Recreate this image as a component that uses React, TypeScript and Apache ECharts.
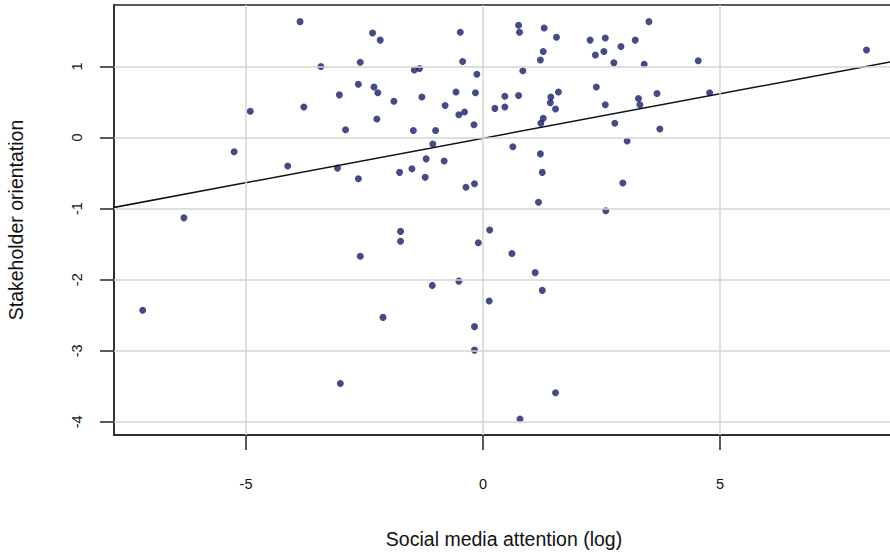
import React, { useEffect, useRef } from "react";
import * as echarts from "echarts";

const xValues: number[] = [
  -3.86, -2.33, -2.17, -0.48, -3.42, -2.59, -0.43, -1.45, -1.34, -0.13,
  -2.63, -2.30, -2.22, -3.03, -3.78, -4.91, -1.29, -0.57, -0.16, -1.88,
  -0.80, -0.51, -0.39, 0.25, -2.24, -0.19, -2.90, -1.47, -1.00, -1.06,
  -5.25, -1.20, -0.82, -4.12, -3.07, -1.76, -1.50, -2.63, -1.22, -0.36,
  -0.18, -6.31, -1.74, -1.74, 0.14, -0.10, -2.59, -1.07, -0.51, -7.18,
  -2.11, 0.13, -0.18, -0.18, -3.01, 0.75, 0.77, 1.29, 3.50, 1.55,
  2.26, 2.58, 3.21, 2.91, 1.27, 2.37, 2.55, 1.21, 2.76, 3.40,
  4.54, 8.09, 0.84, 2.39, 1.59, 1.43, 0.46, 0.75, 3.28, 3.67,
  4.78, 0.46, 1.42, 1.53, 2.58, 3.31, 1.27, 1.22, 2.78, 3.73,
  0.63, 3.04, 1.21, 1.25, 2.95, 1.17, 2.59, 0.61, 1.10, 1.25,
  1.53, 0.78,
];

const yValues: number[] = [
  1.63, 1.47, 1.37, 1.48, 1.00, 1.06, 1.07, 0.95, 0.97, 0.89,
  0.75, 0.71, 0.63, 0.60, 0.43, 0.37, 0.57, 0.64, 0.63, 0.51,
  0.45, 0.32, 0.36, 0.41, 0.26, 0.18, 0.11, 0.10, 0.10, -0.09,
  -0.20, -0.30, -0.33, -0.40, -0.43, -0.49, -0.44, -0.58, -0.56, -0.70,
  -0.65, -1.13, -1.32, -1.46, -1.30, -1.48, -1.67, -2.08, -2.02, -2.43,
  -2.53, -2.30, -2.66, -2.99, -3.46, 1.58, 1.48, 1.54, 1.63, 1.41,
  1.37, 1.40, 1.37, 1.28, 1.21, 1.16, 1.21, 1.09, 1.05, 1.03,
  1.08, 1.23, 0.94, 0.71, 0.64, 0.57, 0.58, 0.59, 0.55, 0.62,
  0.63, 0.43, 0.49, 0.40, 0.46, 0.46, 0.27, 0.20, 0.20, 0.12,
  -0.13, -0.05, -0.23, -0.49, -0.64, -0.91, -1.03, -1.63, -1.90, -2.15,
  -3.59, -3.96,
];

const xTicks: number[] = [-5, 0, 5];
const yTicks: number[] = [-4, -3, -2, -1, 0, 1];

const fitIntercept = -0.01;
const fitSlope = 0.125;

const X_MIN = -7.785;
const X_MAX = 8.67;
const Y_MIN = -4.184;
const Y_MAX = 1.864;

export default function App() {
  const ref = useRef<HTMLDivElement>(null);

  useEffect(() => {
    if (!ref.current) return;
    const chart = echarts.init(ref.current, undefined, { renderer: "svg" });
    const points = xValues.map((x, i) => [x, yValues[i]]);
    const fit = [X_MIN - 1, X_MAX + 1].map((x) => [x, fitIntercept + fitSlope * x]);
    const font = "'Liberation Sans', Arial, sans-serif";
    const axisLine = {
      show: true,
      onZero: false,
      lineStyle: { color: "#222222", width: 1.5 },
    };

    chart.setOption({
      animation: false,
      backgroundColor: "#ffffff",
      grid: {
        left: 114,
        top: 5,
        right: -4,
        bottom: 118,
        containLabel: false,
        outerBoundsMode: "none",
        show: true,
        borderColor: "#222222",
        borderWidth: 1.5,
        backgroundColor: "transparent",
      },
      xAxis: {
        type: "value",
        min: X_MIN,
        max: X_MAX,
        axisLine,
        axisTick: {
          show: true,
          length: 15,
          lineStyle: { color: "#222222", width: 1.5 },
          customValues: xTicks,
        },
        axisLabel: {
          customValues: xTicks,
          margin: 41,
          fontSize: 14.5,
          color: "#111111",
          fontFamily: font,
          formatter: (v: number) => String(v),
        },
        splitLine: { show: false },
        name: "Social media attention (log)",
        nameLocation: "middle",
        nameGap: 94,
        nameTextStyle: { fontSize: 19.5, color: "#111111", fontFamily: font },
      },
      yAxis: {
        type: "value",
        min: Y_MIN,
        max: Y_MAX,
        axisLine,
        axisTick: {
          show: true,
          length: 14,
          lineStyle: { color: "#222222", width: 1.5 },
          customValues: yTicks,
        },
        axisLabel: {
          customValues: yTicks,
          rotate: 90,
          margin: 30,
          fontSize: 14.5,
          color: "#111111",
          fontFamily: font,
          formatter: (v: number) => String(v),
        },
        splitLine: { show: false },
        name: "Stakeholder orientation",
        nameLocation: "middle",
        nameGap: 88,
        nameTextStyle: { fontSize: 19.5, color: "#111111", fontFamily: font },
      },
      series: [
        {
          type: "line",
          data: [],
          silent: true,
          markLine: {
            silent: true,
            symbol: "none",
            label: { show: false },
            lineStyle: { color: "#d4d4d4", width: 1.5, type: "solid" },
            data: [
              ...xTicks.map((v) => ({ xAxis: v })),
              ...yTicks.map((v) => ({ yAxis: v })),
            ],
          },
          z: 1,
        },
        {
          type: "scatter",
          data: points,
          symbolSize: 7,
          itemStyle: { color: "#141f68" },
          z: 3,
        },
        {
          type: "line",
          data: fit,
          showSymbol: false,
          symbol: "none",
          lineStyle: { color: "#111111", width: 1.5 },
          clip: true,
          z: 4,
        },
      ],
    });

    return () => chart.dispose();
  }, []);

  return (
    <div
      ref={ref}
      style={{ position: "absolute", left: 0, top: 0, width: 890, height: 553 }}
    />
  );
}
